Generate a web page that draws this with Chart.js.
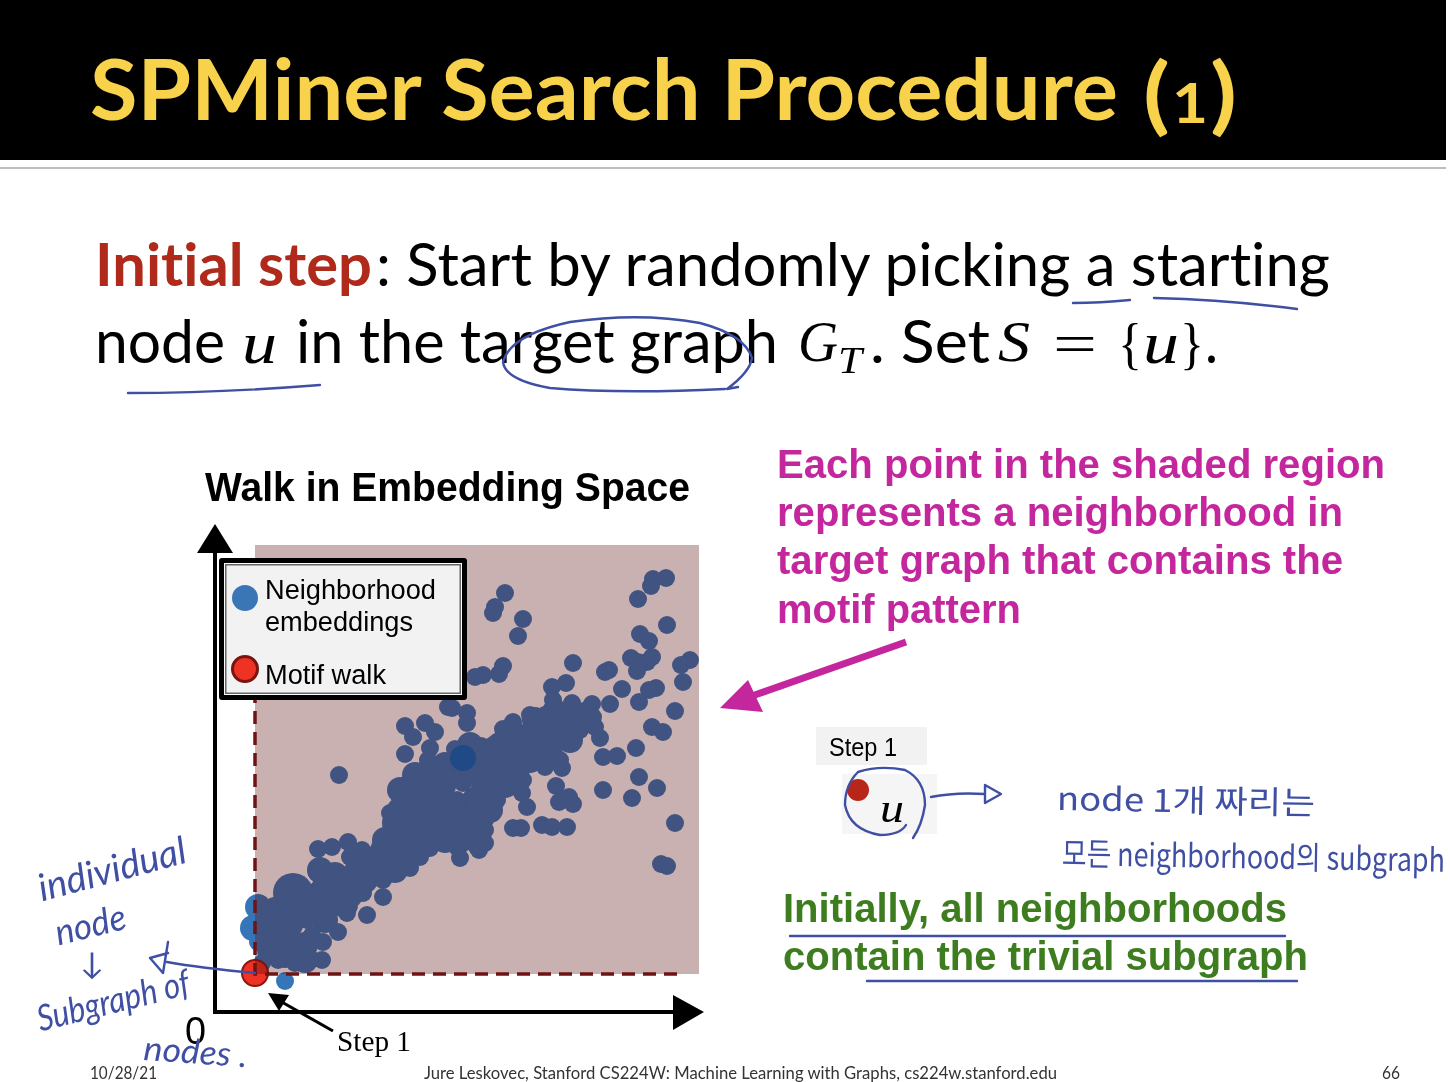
<!DOCTYPE html>
<html><head><meta charset="utf-8">
<script src="https://cdn.jsdelivr.net/npm/chart.js@4"></script>
<style>
html,body{margin:0;padding:0;background:#fff;width:1450px;height:1082px;overflow:hidden}
#stage{position:relative;width:1450px;height:1082px;overflow:hidden}
#head{position:absolute;left:0;top:0;width:1446px;height:160px;background:#000}
#rule{position:absolute;left:0;top:167px;width:1446px;height:2px;background:#bdbdbd}
canvas{position:absolute;left:0;top:0}
.t{position:absolute;white-space:nowrap;transform-origin:0 50%}
.box{position:absolute}
#legend{left:219px;top:558px;width:238px;height:132px;background:#f2f2f2;border:5px solid #000;border-radius:3px;box-shadow:inset 0 0 0 1px #fff,inset 0 0 0 2.5px #666}
.dot{position:absolute;border-radius:50%}
svg{position:absolute;left:0;top:0;pointer-events:none}
</style></head>
<body><div id="stage">
<div id="head"></div><div id="rule"></div>
<canvas id="c" width="1450" height="1082"></canvas>
<div class="box" style="left:816px;top:727px;width:111px;height:38px;background:#f2f2f2"></div>
<div class="box" style="left:842px;top:774px;width:95px;height:60px;background:#f5f5f5"></div>
<div class="dot" style="left:847px;top:779px;width:22px;height:22px;background:#b8261a"></div>
<div id="legend" class="box"></div>
<div class="dot" style="left:232px;top:585px;width:26px;height:26px;background:#3a76b6"></div>
<div class="dot" style="left:231px;top:655px;width:22px;height:22px;background:#ee3224;border:3px solid #7a1410"></div>
<div id="texts"></div>
<svg width="1450" height="1082" fill="none" stroke-linecap="round" stroke-linejoin="round">
 <g stroke="#3f4fa3" stroke-width="2.4">
  <path d="M1073 303Q1100 303 1130 300M1154 298Q1230 300 1297 309"/>
  <path d="M128 393Q220 393 320 385"/>
  <path d="M725 389Q620 394 550 388Q505 380 503 362Q510 335 570 322Q640 312 700 323Q745 335 752 358Q750 372 727 389L738 387"/>
  <path d="M255 973Q200 968 167 962M168 942L163 973L150 958L168 953"/>
  <path d="M858 772Q845 785 845 805Q850 830 880 835Q900 835 906 825M858 772Q880 765 905 770Q925 780 925 805Q922 825 913 838"/>
  <path d="M931 797Q955 792 985 794M985 785L1001 794L985 803Z"/>
  <path d="M790 936H1285M867 981H1297"/>
 </g>
</svg>
<svg width="1450" height="1082">
 <path d="M906 642L752 696" stroke="#c4279d" stroke-width="7" fill="none"/>
 <path d="M720 708L763 712L748 680Z" fill="#c4279d"/>
 <path d="M333 1031L280 1001" stroke="#000" stroke-width="3" fill="none"/>
 <path d="M268 993L289 995L279 1011Z" fill="#000"/>
</svg>
</div>
<script>
// Embedding-space positions, measured from the corner of the shaded region
const neighborhoodX = [411,398,396,383,412,250,240,238,268,263,385,394,318,376,397,392,382,383,435,426,428,354,350,248,244,228,220,367,401,394,384,420,355,337,311,297,298,317,318,212,212,197,275,290,258,248,295,308,325,338,340,345,397,408,381,348,362,384,402,348,238,255,273,277,295,305,307,290,268,228,242,255,301,377,420,406,412,304,314,318,258,266,287,297,312,272,267,268,242,230,230,230,224,205,215,202,202,202,208,225,245,84,63,77,93,107,125,142,158,175,165,155,142,125,95,98,115,128,128,112,92,75,108,82,62,65,58,52,83,68,67,55,40,23,25,15,40,57,3,7,30,195,188,222,218,198,192,172,178,135,165,150,170,180,158,175,150,173,193,193,178,185,215,235,185,215,200,220,150,120,100,80];
const neighborhoodY = [396,395,388,375,349,381,367,361,355,338,340,333,311,316,317,312,303,312,314,309,292,304,302,308,300,299,297,285,286,284,272,263,270,270,291,287,274,271,261,261,251,266,259,259,252,245,244,237,244,257,247,236,247,242,226,217,218,197,186,184,229,227,237,226,234,214,206,207,207,217,204,204,188,176,151,110,108,172,177,170,146,146,149,147,147,167,181,194,174,154,144,131,124,116,161,174,144,127,191,187,194,199,125,127,132,124,127,137,137,126,117,106,102,114,117,104,104,94,77,59,61,64,81,87,101,87,71,54,42,32,14,16,11,14,31,37,34,39,32,11,-7,131,134,127,157,171,187,171,157,161,147,248,251,242,237,226,220,214,267,196,194,174,204,174,154,144,225,170,130,120,90,75];
const denseX = [20,35,50,20,35,50,15,30,50,65,80,95,80,95,65,110,125,110,140,140,90,50,70,130,145,160,175,190,145,160,175,190,205,160,175,145,190,205,220,235,220,235,215,230,190,205,220,180,165,245,265,245,230,265,280,290,260,275,290,305,320,300,315,330,280,295,260,250,235,240,225,215];
const denseY = [64,49,64,49,29,29,24,19,14,104,99,94,74,79,74,94,104,114,119,104,69,79,54,134,124,124,139,149,164,164,164,169,159,199,204,184,209,199,174,184,204,204,139,174,134,134,149,179,174,214,214,229,204,229,239,229,239,214,244,249,254,262,234,259,254,219,199,189,164,214,224,229];
const bigX = [38,162,147,175];
const bigY = [81,184,151,184];
const midX = [18,3,-2];
const midY = [56,67,46];
const startX = [208];
const startY = [216];
const motifX = [0];
const motifY = [1];
const regionX = [0,0,427];
const regionY = [410,0,0];
const tickLabels = ['0'];

const zip = (xs,ys)=>xs.map((x,i)=>({x,y:ys[i]}));
const BLUE='#3575b8';
const shade={id:'shade',afterDatasetDraw(chart,args){
  if(args.index!==4)return;
  const {x,y}=chart.scales,c=chart.ctx;
  c.save();c.fillStyle='rgba(87,13,13,0.32)';
  const l=x.getPixelForValue(0),t=y.getPixelForValue(429),r=x.getPixelForValue(444),b=y.getPixelForValue(0);
  c.fillRect(l,t,r-l,b-t);c.restore();
}};
const arrows={id:'arrows',afterDraw(chart){
  const a=chart.chartArea,c=chart.ctx;
  c.save();c.fillStyle='#000';
  c.beginPath();c.moveTo(a.left,524);c.lineTo(a.left-18,553);c.lineTo(a.left+18,553);c.closePath();c.fill();
  c.beginPath();c.moveTo(704,a.bottom);c.lineTo(673,a.bottom-17);c.lineTo(673,a.bottom+18);c.closePath();c.fill();
  c.restore();
}};
new Chart(document.getElementById('c'),{
  type:'scatter',
  data:{datasets:[
    {label:'Neighborhood embeddings',data:zip(neighborhoodX,neighborhoodY),backgroundColor:BLUE,borderWidth:0,pointRadius:9,clip:false,order:5},
    {label:'Large',data:zip(bigX,bigY),backgroundColor:BLUE,borderWidth:0,pointRadius:20,clip:false,order:6},
    {label:'Medium',data:zip(midX,midY),backgroundColor:BLUE,borderWidth:0,pointRadius:13,clip:false,order:7},
    {label:'Motif walk',data:zip(motifX,motifY),backgroundColor:'#ee3224',borderColor:'#8a1712',borderWidth:2,pointRadius:13,clip:false,order:4.5},
    {label:'Start',data:zip(startX,startY),backgroundColor:'#0767be',borderWidth:0,pointRadius:13,clip:false,order:4},
    {type:'line',label:'Region',data:zip(regionX,regionY),borderColor:'#6e1414',borderWidth:3.5,borderDash:[13,8],pointRadius:0,fill:false,tension:0,clip:false,order:1},
    {label:'Dense core',data:zip(denseX,denseY),backgroundColor:BLUE,borderWidth:0,pointRadius:13,clip:false,order:5.5}
  ]},
  options:{
    responsive:false,animation:false,
    layout:{padding:{left:215,top:530,right:760,bottom:70}},
    plugins:{legend:{display:false},tooltip:{enabled:false}},
    scales:{
      x:{type:'linear',min:-40,max:435,grid:{display:false},ticks:{display:false},border:{color:'#000',width:4},afterFit(s){s.height=0}},
      y:{type:'linear',min:-38,max:444,grid:{display:false},ticks:{display:false},border:{color:'#000',width:4},afterFit(s){s.width=0}}
    }
  },
  plugins:[shade,arrows]
});

const L='Lato, sans-serif',A='"Liberation Sans", Arial, sans-serif',S='"Liberation Serif", serif',K='"Noto Sans CJK KR", sans-serif';
const HAND='#3f4fa3';
// text, left, centreY, width, font css, colour, rotation
const items=[
 ['SPMiner Search Procedure',90,88,1028,'bold 84px '+L,'#f8d24a'],
 ['(',1143,92,27,'bold 84px '+L,'#f8d24a'],
 ['1',1172,102,36,'bold 56px '+L,'#f8d24a'],
 [')',1210,92,27,'bold 84px '+L,'#f8d24a'],
 ['Initial step',95,263,277,'bold 60px '+L,'#b02a1c'],
 [': Start by randomly picking a starting',376,263,954,'60px '+L,'#000'],
 ['node',95,340,130,'60px '+L,'#000'],
 ['u',242,343,35,'italic 60px '+S,'#000'],
 ['in the target graph',296,340,482,'60px '+L,'#000'],
 ['G',798,342,40,'italic 58px '+S,'#000'],
 ['T',838,360,24,'italic 38px '+S,'#000'],
 ['. Set',870,340,120,'60px '+L,'#000'],
 ['S',998,342,32,'italic 58px '+S,'#000'],
 ['=',1053,344,44,'58px '+S,'#000'],
 ['{',1118,344,24,'56px '+S,'#000'],
 ['u',1143,343,36,'italic 60px '+S,'#000'],
 ['}',1180,344,24,'56px '+S,'#000'],
 ['.',1205,340,13,'60px '+L,'#000'],
 ['Walk in Embedding Space',205,487,485,'bold 40px '+A,'#000'],
 ['Each point in the shaded region',777,464,608,'bold 40px '+A,'#c4279d'],
 ['represents a neighborhood in',777,512,566,'bold 40px '+A,'#c4279d'],
 ['target graph that contains the',777,560,566,'bold 40px '+A,'#c4279d'],
 ['motif pattern',777,609,244,'bold 40px '+A,'#c4279d'],
 ['Initially, all neighborhoods',783,908,504,'bold 40px '+A,'#3d7d1f'],
 ['contain the trivial subgraph',783,956,525,'bold 40px '+A,'#3d7d1f'],
 ['Neighborhood',265,590,171,'27px '+A,'#000'],
 ['embeddings',265,622,148,'27px '+A,'#000'],
 ['Motif walk',265,675,121,'27px '+A,'#000'],
 [tickLabels[0],185,1031,21,'38px '+A,'#000'],
 ['Step 1',337,1041,74,'30px '+S,'#000'],
 ['Step 1',829,747,68,'25px '+A,'#000'],
 ['u',880,808,24,'italic 42px '+S,'#000'],
 ['10/28/21',90,1073,67,'17px '+L,'#333'],
 ['Jure Leskovec, Stanford CS224W: Machine Learning with Graphs, cs224w.stanford.edu',424,1073,633,'17px '+L,'#333'],
 ['66',1382,1073,18,'17px '+L,'#333'],
 ['individual',38,887,152,'italic 38px '+L,HAND,-15],
 ['node',55,932,72,'italic 36px '+L,HAND,-14],
 ['↓',80,962,24,'30px '+L,HAND],
 ['Subgraph of',37,1018,156,'italic 36px '+L,HAND,-14],
 ['nodes .',144,1047,104,'italic 34px '+L,HAND,4],
 ['node 1개 짜리는',1057,796,258,'400 32px '+K,HAND,1],
 ['모든 neighborhood의 subgraph',1062,851,383,'400 32px '+K,HAND,1]
];
const host=document.getElementById('texts');
for(const [txt,x,y,w,font,color,rot] of items){
  const e=document.createElement('span');e.className='t';e.textContent=txt;
  e.style.cssText=`left:${x}px;top:${y-50}px;height:100px;font:${font};line-height:100px;color:${color};font-variant-ligatures:none`;
  host.appendChild(e);
  const m=e.getBoundingClientRect().width;
  e.style.transform=`rotate(${rot||0}deg) scaleX(${w/m})`;
}
</script>
</body></html>
